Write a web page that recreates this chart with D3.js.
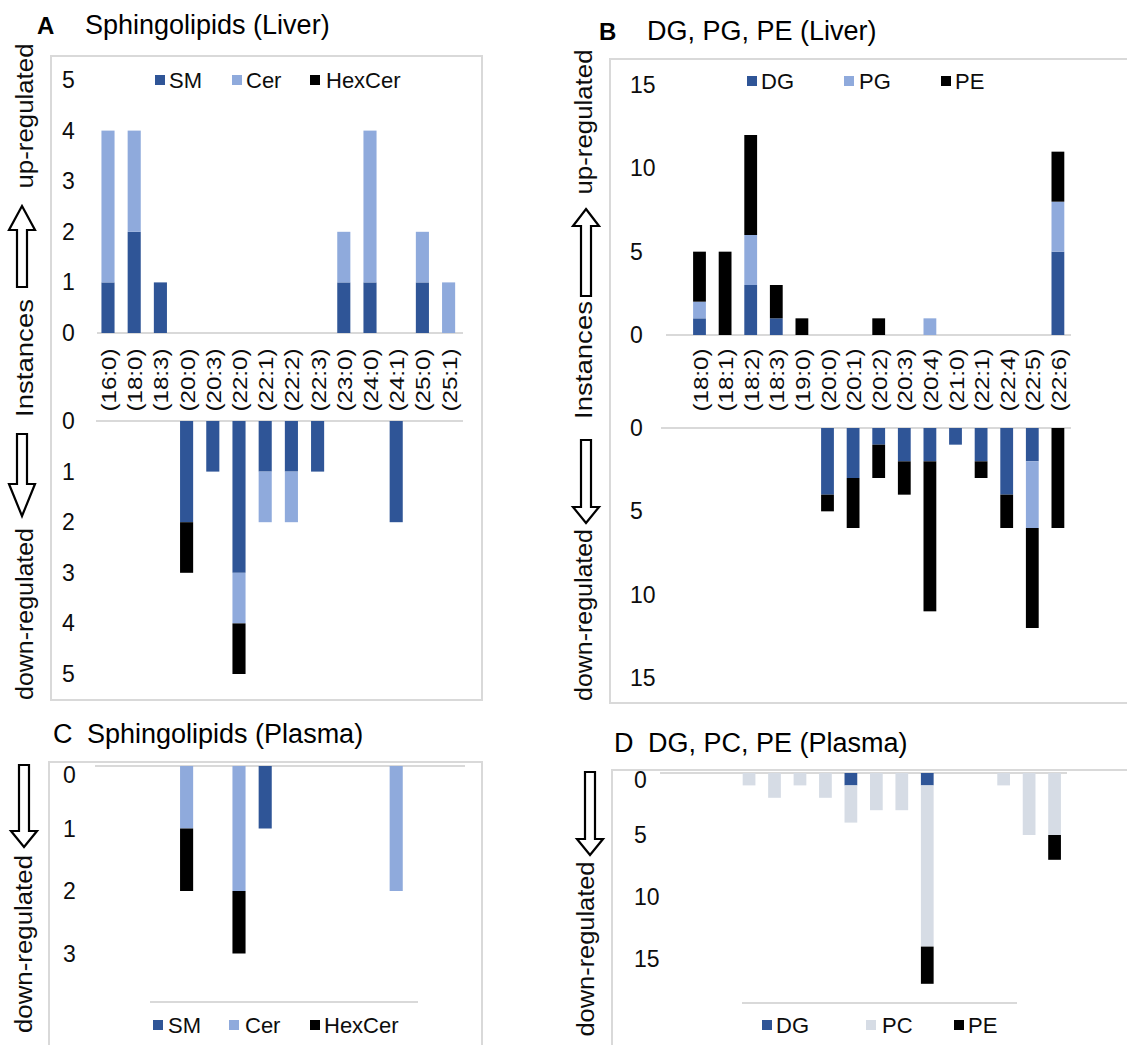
<!DOCTYPE html>
<html><head><meta charset="utf-8">
<script src="https://cdn.jsdelivr.net/npm/d3@7"></script>
<style>
body{margin:0;background:#fff;}
svg{display:block;font-family:"Liberation Sans",Arial,sans-serif;}
</style></head>
<body>
<svg id="chart" width="1127" height="1045"></svg>
<script>
// ---------------- DATA ----------------
const catsA = ["(16:0)","(18:0)","(18:3)","(20:0)","(20:3)","(22:0)","(22:1)","(22:2)","(22:3)","(23:0)","(24:0)","(24:1)","(25:0)","(25:1)"];
const aUpSM    = [1,2,1,0,0,0,0,0,0,1,1,0,1,0];
const aUpCer   = [3,2,0,0,0,0,0,0,0,1,3,0,1,1];
const aUpHex   = [0,0,0,0,0,0,0,0,0,0,0,0,0,0];
const aDownSM  = [0,0,0,2,1,3,1,1,1,0,0,2,0,0];
const aDownCer = [0,0,0,0,0,1,1,1,0,0,0,0,0,0];
const aDownHex = [0,0,0,1,0,1,0,0,0,0,0,0,0,0];

const catsB = ["(18:0)","(18:1)","(18:2)","(18:3)","(19:0)","(20:0)","(20:1)","(20:2)","(20:3)","(20:4)","(21:0)","(22:1)","(22:4)","(22:5)","(22:6)"];
const bUpDG   = [1,0,3,1,0,0,0,0,0,0,0,0,0,0,5];
const bUpPG   = [1,0,3,0,0,0,0,0,0,1,0,0,0,0,3];
const bUpPE   = [3,5,6,2,1,0,0,1,0,0,0,0,0,0,3];
const bDownDG = [0,0,0,0,0,4,3,1,2,2,1,2,4,2,0];
const bDownPG = [0,0,0,0,0,0,0,0,0,0,0,0,0,4,0];
const bDownPE = [0,0,0,0,0,1,3,2,2,9,0,1,2,6,6];

const cDownSM  = [0,0,0,0,0,0,1,0,0,0,0,0,0,0];
const cDownCer = [0,0,0,1,0,2,0,0,0,0,0,2,0,0];
const cDownHex = [0,0,0,1,0,1,0,0,0,0,0,0,0,0];

const dDownDG = [0,0,0,0,0,0,1,0,0,1,0,0,0,0,0];
const dDownPC = [0,0,1,2,1,2,3,3,3,13,0,0,1,5,5];
const dDownPE = [0,0,0,0,0,0,0,0,0,3,0,0,0,0,2];

const ticksA = [0,1,2,3,4,5];
const ticksB = [0,5,10,15];
const ticksC = [0,1,2,3];
const ticksD = [0,5,10,15];

const namesA = ["SM","Cer","HexCer"];
const namesB = ["DG","PG","PE"];
const namesD = ["DG","PC","PE"];

// ---------------- STYLE ----------------
const DARK = "#2F5597", LIGHT = "#8FAADC", BLACK = "#000000", GREY = "#D6DCE5";
const BORDER = "#D9D9D9";
const TXT = "#0d0d0d";

const svg = d3.select("#chart");

function box(x0, y0, x1, y1){
  svg.append("rect").attr("x",x0).attr("y",y0).attr("width",x1-x0).attr("height",y1-y0)
    .attr("fill","none").attr("stroke",BORDER).attr("stroke-width",2);
}
function hline(x0, x1, y){
  svg.append("line").attr("x1",x0).attr("x2",x1).attr("y1",y).attr("y2",y)
    .attr("stroke",BORDER).attr("stroke-width",2);
}
function stack(x, y, cats, series, colors){
  const g = svg.append("g");
  cats.forEach((c,i)=>{
    let cum = 0;
    series.forEach((s,k)=>{
      const v = s[i];
      if(v>0){
        const p0 = y(cum), p1 = y(cum+v);
        g.append("rect").attr("x",x(c)).attr("width",x.bandwidth())
          .attr("y",Math.min(p0,p1)).attr("height",Math.abs(p1-p0)).attr("fill",colors[k]);
      }
      cum += v;
    });
  });
}
function ticks(y, vals, xLeft, zeroShift){
  vals.forEach(v=>{
    svg.append("text").attr("x",xLeft).attr("y",y(v)+(v===0?zeroShift:0))
      .attr("dominant-baseline","central").attr("font-size",23).attr("fill",TXT).text(v);
  });
}
function catLabels(x, cats, cy){
  cats.forEach(c=>{
    const cx = x(c)+x.bandwidth()/2;
    svg.append("text").attr("transform",`translate(${cx+1},${cy}) rotate(-90)`)
      .attr("text-anchor","middle").attr("dominant-baseline","central")
      .attr("font-size",20).attr("textLength",63).attr("lengthAdjust","spacingAndGlyphs")
      .attr("fill",TXT).text(c);
  });
}
function vtext(cx, cy, txt, len){
  svg.append("text").attr("transform",`translate(${cx},${cy}) rotate(-90)`)
    .attr("text-anchor","middle").attr("dominant-baseline","central")
    .attr("font-size",23).attr("textLength",len).attr("lengthAdjust","spacingAndGlyphs")
    .attr("fill",TXT).text(txt);
}
// hollow arrow: tip at yTip, head base at yBase, shaft end at yEnd
function arrow(cx, yTip, yBase, yEnd){
  const hw = 13, sw = 5;
  const pts = [[cx,yTip],[cx+hw,yBase],[cx+sw,yBase],[cx+sw,yEnd],[cx-sw,yEnd],[cx-sw,yBase],[cx-hw,yBase]];
  svg.append("path").attr("d","M"+pts.map(p=>p.join(",")).join("L")+"Z")
    .attr("fill","#fff").attr("stroke","#000").attr("stroke-width",2.2).attr("stroke-linejoin","miter");
}
function legend(items, colors, xs, tx, cy){
  items.forEach((n,i)=>{
    svg.append("rect").attr("x",xs[i]).attr("y",cy-5).attr("width",10).attr("height",10).attr("fill",colors[i]);
    svg.append("text").attr("x",tx[i]).attr("y",cy).attr("dominant-baseline","central")
      .attr("font-size",22).attr("fill",TXT).text(n);
  });
}
function title(x, y, txt, bold){
  svg.append("text").attr("x",x).attr("y",y).attr("font-size",bold?24:27)
    .attr("font-weight",bold?"bold":"normal").attr("fill","#000").text(txt);
}

// ---------------- PANEL A ----------------
title(37,34,"A",true);
title(85,34,"Sphingolipids (Liver)",false);
box(51,56,482,700);
const xA = d3.scaleBand().domain(catsA).range([94.9,461.7]).paddingInner(0.5).paddingOuter(0.25);
const yAup = d3.scaleLinear().domain([0,5]).range([333,80]);
const yAdn = d3.scaleLinear().domain([0,5]).range([421,674]);
hline(97,463,yAup(0));
hline(96,463,yAdn(0));
stack(xA,yAup,catsA,[aUpSM,aUpCer,aUpHex],[DARK,LIGHT,BLACK]);
stack(xA,yAdn,catsA,[aDownSM,aDownCer,aDownHex],[DARK,LIGHT,BLACK]);
ticks(yAup,ticksA,62,0);
ticks(yAdn,ticksA,62,0);
catLabels(xA,catsA,380);
legend(namesA,[DARK,LIGHT,BLACK],[155,232,310],[169,246,326],80);
vtext(25,116,"up-regulated",145);
arrow(22,206,230,287);
vtext(25,358,"Instances",118);
arrow(22,516,484,434);
vtext(25,614,"down-regulated",172);

// ---------------- PANEL B ----------------
title(599,40,"B",true);
title(647,40,"DG, PG, PE (Liver)",false);
box(610,59,1140,703);
const xB = d3.scaleBand().domain(catsB).range([686.7,1070.7]).paddingInner(0.5).paddingOuter(0.25);
const yBup = d3.scaleLinear().domain([0,15]).range([335,85]);
const yBdn = d3.scaleLinear().domain([0,15]).range([428,678]);
hline(666,1071,yBup(0));
hline(661,1071,yBdn(0));
stack(xB,yBup,catsB,[bUpDG,bUpPG,bUpPE],[DARK,LIGHT,BLACK]);
stack(xB,yBdn,catsB,[bDownDG,bDownPG,bDownPE],[DARK,LIGHT,BLACK]);
ticks(yBup,ticksB,630,0);
ticks(yBdn,ticksB,630,0);
catLabels(xB,catsB,380);
legend(namesB,[DARK,LIGHT,BLACK],[747,844,941],[761,859,955],81);
vtext(584,122,"up-regulated",145);
arrow(586,209,226,296);
vtext(584,360,"Instances",118);
arrow(586,523,507,440);
vtext(584,615,"down-regulated",172);

// ---------------- PANEL C ----------------
title(53,743,"C",false);
title(87,743,"Sphingolipids (Plasma)",false);
box(49,762,482,1060);
const yC = d3.scaleLinear().domain([0,3]).range([766,953.5]);
hline(95,465,yC(0));
stack(xA,yC,catsA,[cDownSM,cDownCer,cDownHex],[DARK,LIGHT,BLACK]);
ticks(yC,ticksC,63,9);
hline(150,418,1002);
legend(namesA,[DARK,LIGHT,BLACK],[153,229,310],[168,245,324],1025);
arrow(24,847,831,765);
vtext(24,944,"down-regulated",178);

// ---------------- PANEL D ----------------
title(614,752,"D",false);
title(648,752,"DG, PC, PE (Plasma)",false);
box(612,770,1140,1060);
const xD = d3.scaleBand().domain(catsB).range([685.4,1067.3]).paddingInner(0.5).paddingOuter(0.25);
const yD = d3.scaleLinear().domain([0,15]).range([773,959]);
hline(660,1067,yD(0));
stack(xD,yD,catsB,[dDownDG,dDownPC,dDownPE],[DARK,GREY,BLACK]);
ticks(yD,ticksD,634,7);
hline(742,1017,1003);
legend(namesD,[DARK,GREY,BLACK],[762,866,954],[776,882,968],1025);
arrow(590,855,839,772);
vtext(586,949,"down-regulated",175);
</script>
</body></html>
